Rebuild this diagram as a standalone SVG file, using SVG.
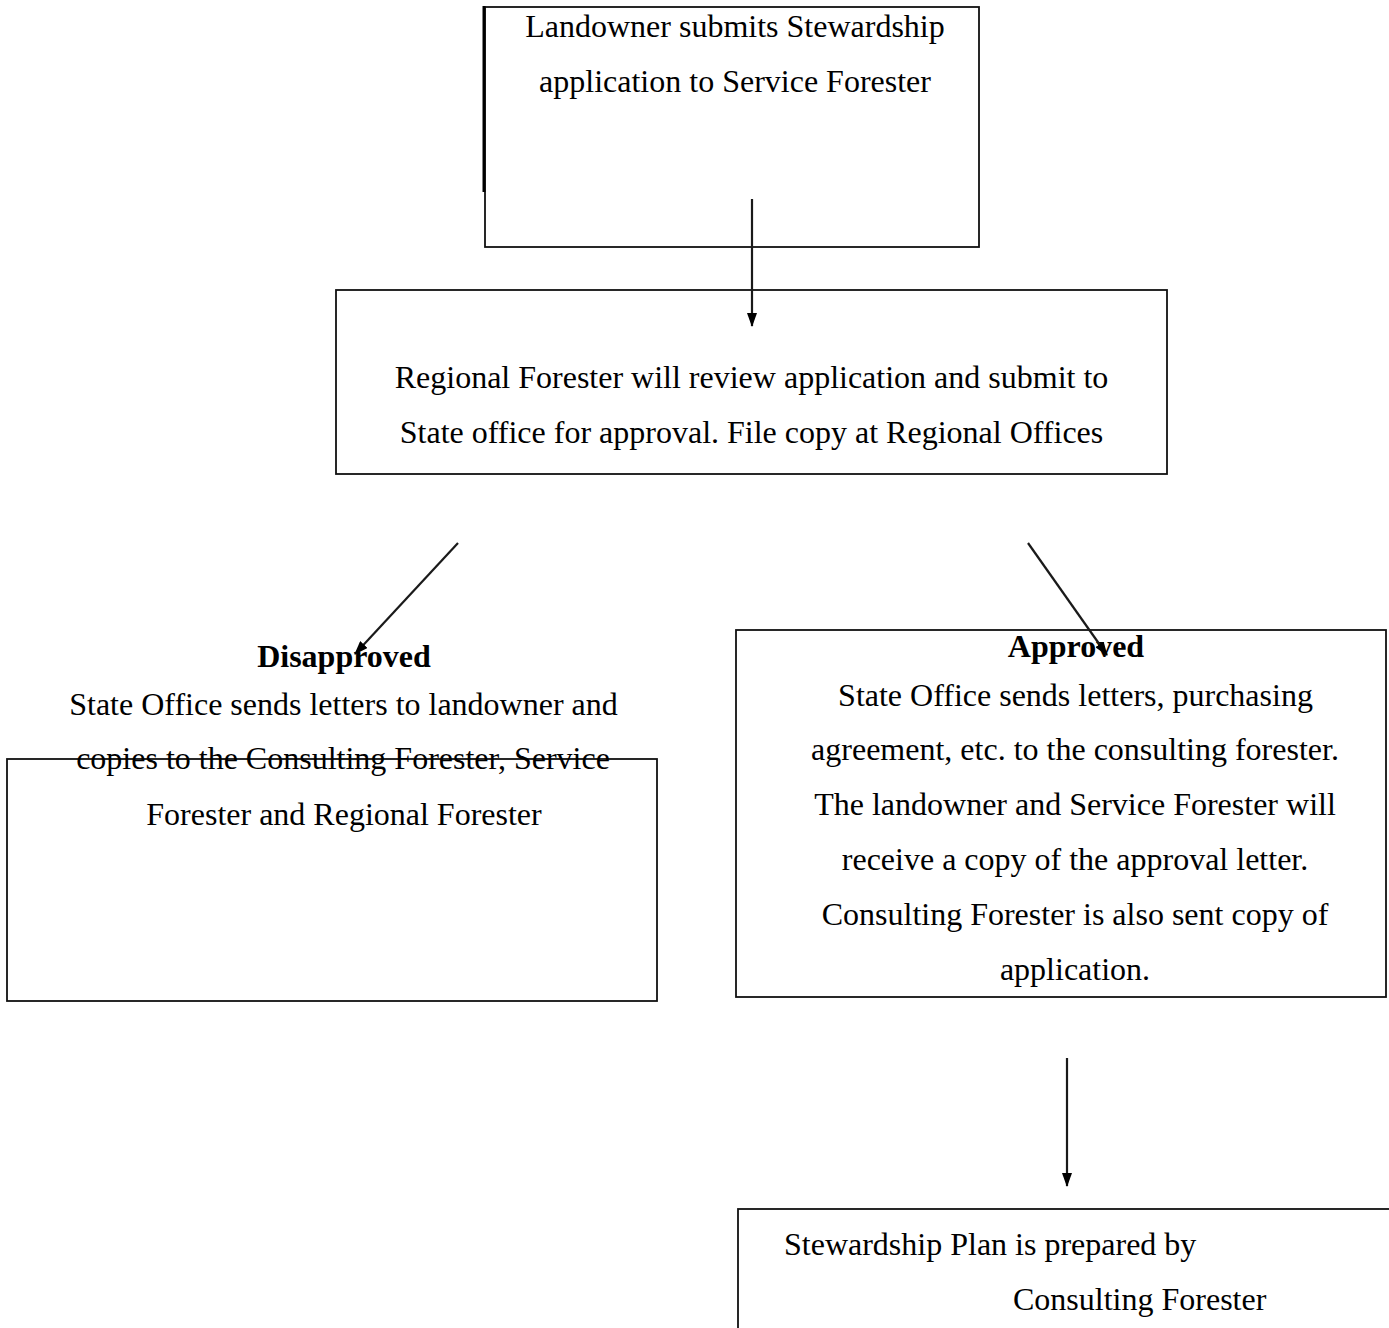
<svg xmlns="http://www.w3.org/2000/svg" width="1389" height="1328" viewBox="0 0 1389 1328">
<defs>
<style>
.box{fill:none;stroke:#111;stroke-width:1.8}
.t{font-family:"Liberation Serif","Times New Roman",serif;font-size:32px;fill:#000;text-anchor:middle}
.b{font-weight:bold}
.l{text-anchor:start}
.c{stroke:#1a1a1a;stroke-width:2.2;fill:none;marker-end:url(#ah)}
</style>
<marker id="ah" viewBox="0 0 14 10" refX="13" refY="5" markerWidth="14" markerHeight="10" markerUnits="userSpaceOnUse" orient="auto">
<path d="M0,0 L14,5 L0,10 z" fill="#000"/>
</marker>
</defs>
<rect width="1389" height="1328" fill="#fff"/>
<g id="n1">
<rect class="box" x="485" y="7" width="494" height="240"/>
<line x1="484" y1="6" x2="484" y2="192" stroke="#000" stroke-width="3"/>
<text class="t" x="735" y="37">Landowner submits Stewardship</text>
<text class="t" x="735" y="92">application to Service Forester</text>
</g>
<g id="n2">
<rect class="box" x="336" y="290" width="831" height="184"/>
<text class="t" x="751.5" y="388">Regional Forester will review application and submit to</text>
<text class="t" x="751.5" y="443">State office for approval. File copy at Regional Offices</text>
</g>
<g id="n3">
<rect class="box" x="7" y="759" width="650" height="242"/>
<text class="t b" x="344" y="667">Disapproved</text>
<text class="t" x="343.5" y="715">State Office sends letters to landowner and</text>
<text class="t" x="343" y="769">copies to the Consulting Forester, Service</text>
<text class="t" x="344" y="825">Forester and Regional Forester</text>
</g>
<g id="n4">
<rect class="box" x="736" y="630" width="650" height="367"/>
<text class="t b" x="1076" y="657">Approved</text>
<text class="t" x="1075.5" y="706">State Office sends letters, purchasing</text>
<text class="t" x="1075" y="760">agreement, etc. to the consulting forester.</text>
<text class="t" x="1075" y="815">The landowner and Service Forester will</text>
<text class="t" x="1075" y="870">receive a copy of the approval letter.</text>
<text class="t" x="1075" y="925">Consulting Forester is also sent copy of</text>
<text class="t" x="1075" y="980">application.</text>
</g>
<g id="n5">
<rect class="box" x="738" y="1209" width="660" height="140"/>
<text class="t l" x="784" y="1255">Stewardship Plan is prepared by</text>
<text class="t l" x="1013" y="1310">Consulting Forester</text>
</g>
<g id="connectors">
<line class="c" x1="752" y1="199" x2="752" y2="326"/>
<line class="c" x1="458" y1="543" x2="355" y2="654"/>
<line class="c" x1="1028" y1="543" x2="1107" y2="655"/>
<line class="c" x1="1067" y1="1058" x2="1067" y2="1186"/>
</g>
</svg>
